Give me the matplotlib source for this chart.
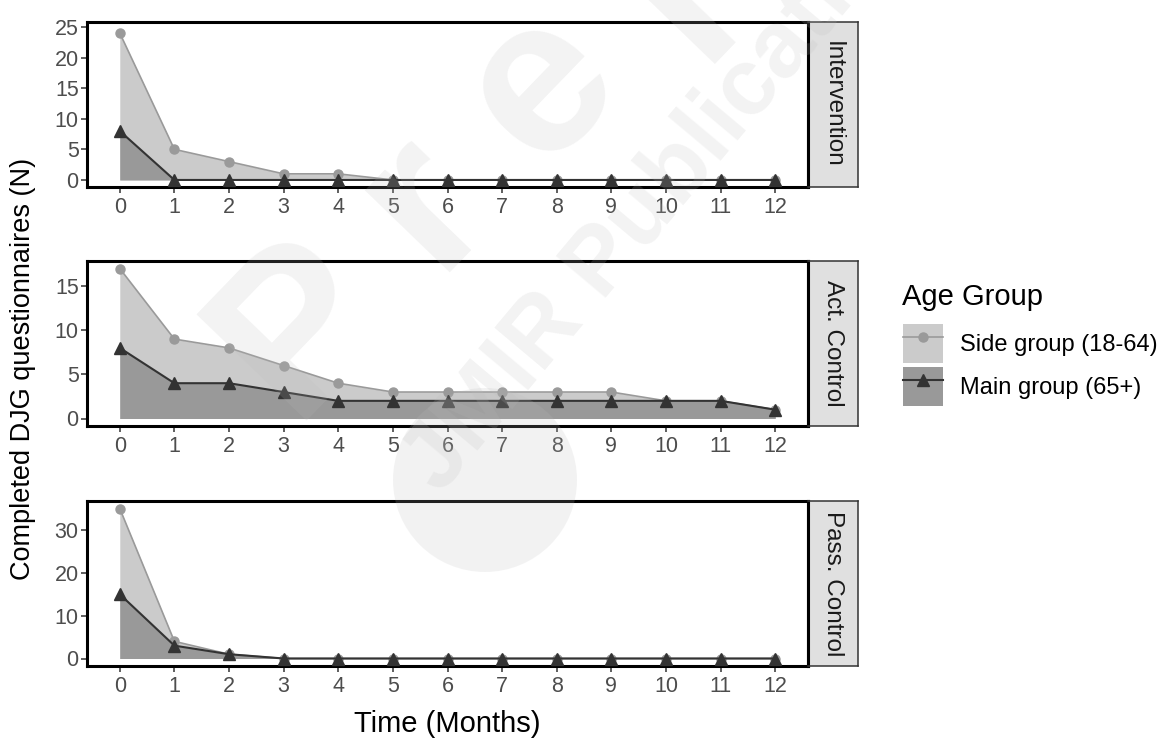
import matplotlib
matplotlib.use("Agg")
import matplotlib.pyplot as plt
from matplotlib.lines import Line2D
from matplotlib.patches import Patch, Circle
import numpy as np

plt.rcParams['font.family'] = ['Liberation Sans', 'DejaVu Sans']

# data
months = list(range(13))
panels = ["Intervention", "Act. Control", "Pass. Control"]
side_18_64 = {
    "Intervention": [24, 5, 3, 1, 1, 0, 0, 0, 0, 0, 0, 0, 0],
    "Act. Control": [17, 9, 8, 6, 4, 3, 3, 3, 3, 3, 2, 2, 1],
    "Pass. Control": [35, 4, 1, 0, 0, 0, 0, 0, 0, 0, 0, 0, 0],
}
main_65 = {
    "Intervention": [8, 0, 0, 0, 0, 0, 0, 0, 0, 0, 0, 0, 0],
    "Act. Control": [8, 4, 4, 3, 2, 2, 2, 2, 2, 2, 2, 2, 1],
    "Pass. Control": [15, 3, 1, 0, 0, 0, 0, 0, 0, 0, 0, 0, 0],
}
yticks = {
    "Intervention": [0, 5, 10, 15, 20, 25],
    "Act. Control": [0, 5, 10, 15],
    "Pass. Control": [0, 10, 20, 30],
}
ylims = {
    "Intervention": (-1.15, 25.8),
    "Act. Control": (-0.85, 17.85),
    "Pass. Control": (-1.75, 36.75),
}

side_fill, main_fill = "#CBCBCB", "#999999"
side_line, main_line = "#9A9A9A", "#333333"

W, H = 1161, 738
fig = plt.figure(figsize=(W / 100, H / 100), dpi=100)

left, right = 87, 808
strip_w = 50
tops = [22, 261, 501]
ph = 165

for name, top in zip(panels, tops):
    ax = fig.add_axes([left / W, 1 - (top + ph) / H, (right - left) / W, ph / H])
    s = side_18_64[name]
    m = main_65[name]
    ax.fill_between(months, 0, s, color=side_fill, lw=0, zorder=1)
    ax.fill_between(months, 0, m, color=main_fill, lw=0, zorder=2)
    ax.plot(months, s, color=side_line, lw=1.2, marker='o', ms=6.5, zorder=3)
    ax.plot(months, m, color=main_line, lw=1.5, marker='^', ms=8.5, zorder=4)
    ax.set_xlim(-0.6, 12.6)
    ax.set_ylim(*ylims[name])
    ax.set_xticks(months)
    ax.set_yticks(yticks[name])
    ax.tick_params(colors="#333333", labelcolor="#4D4D4D", labelsize=15.5,
                   length=4, width=1.1)
    ax.tick_params(axis='y', pad=2)
    ax.tick_params(axis='x', pad=3)
    for sp in ax.spines.values():
        sp.set_linewidth(2.2)
        sp.set_color("black")

    sax = fig.add_axes([right / W, 1 - (top + ph) / H, strip_w / W, ph / H])
    sax.set_facecolor("#E0E0E0")
    sax.set_xticks([])
    sax.set_yticks([])
    for k, sp in sax.spines.items():
        sp.set_linewidth(1.1 if k != 'left' else 2.2)
        sp.set_color("black" if k == 'left' else "#333333")
    sax.text(0.5, 0.5, name, rotation=-90, ha='center', va='center',
             fontsize=17.5, color="#1A1A1A", transform=sax.transAxes)

fig.text(23 / W, 0.5, "Completed DJG questionnaires (N)", rotation=90,
         ha='center', va='center', fontsize=19.5)
fig.text((left + right) / 2 / W, 0.008, "Time (Months)", ha='center',
         va='baseline', fontsize=21)

fig.text(902 / W, 1 - 305 / H, "Age Group", ha='left', va='baseline', fontsize=21)
handles = [
    (Patch(facecolor=side_fill, edgecolor='none'),
     Line2D([], [], color=side_line, lw=1.2, marker='o', ms=6.5)),
    (Patch(facecolor=main_fill, edgecolor='none'),
     Line2D([], [], color=main_line, lw=1.5, marker='^', ms=8.5)),
]
fig.legend(handles, ["Side group (18-64)", "Main group (65+)"],
           loc='upper left', bbox_to_anchor=(903 / W, 1 - 324 / H),
           frameon=False, fontsize=17, handlelength=1.7, handleheight=2.165,
           handletextpad=0.7, labelspacing=0.17, borderpad=0,
           borderaxespad=0)

# faint preprint watermark on top
wm = dict(color="#BBBBBB", alpha=0.18, zorder=100, fontweight='bold',
          rotation_mode='anchor', ha='left', va='baseline')
fig.text(297 / W, 1 - 431 / H, "P r e p r i n t", rotation=46, fontsize=160, **wm)
fig.text(440 / W, 1 - 495 / H, "JMIR Publications", rotation=50, fontsize=68, **wm)
fig.patches.append(Circle((4.85, (H - 480) / 100), 0.92,
                          transform=fig.dpi_scale_trans, facecolor="#BBBBBB",
                          alpha=0.18, edgecolor='none', zorder=100))

fig.savefig("out.png", dpi=100)
